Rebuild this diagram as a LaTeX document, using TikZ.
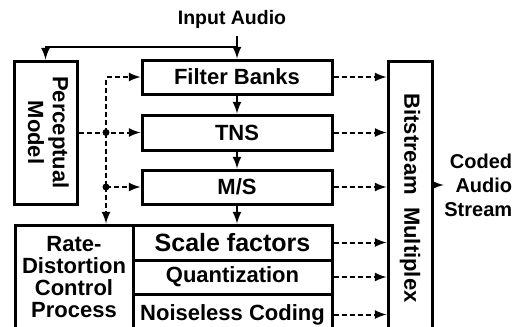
\documentclass[tikz,border=0pt]{standalone}
\usepackage{fontspec}
\setmainfont{Liberation Sans}
\begin{document}
\begin{tikzpicture}[x=0.5pt, y=-0.5pt, thick, >={latex},
	blk/.style={draw, line width=1.5pt, inner sep=0pt, align=center,
		font=\bfseries\fontsize{11}{12}\selectfont},
	sig/.style={line width=1pt, ->},
	ctl/.style={line width=1pt, ->, dash pattern=on 2.5pt off 1.5pt}]
	\useasboundingbox (0,0) rectangle (520,327);
	\clip (0,0) rectangle (520,327);
	
	\node[font=\bfseries\fontsize{9.75}{11}\selectfont] (in) at (232,19) {Input Audio};
	\node[blk, minimum width=95pt, minimum height=17pt] (fb) at (237,77) {Filter Banks};
	\node[blk, minimum width=95pt, minimum height=17.5pt] (tns) at (237,132.5) {TNS};
	\node[blk, minimum width=95pt, minimum height=17pt] (ms) at (237,187) {M/S};
	\node[blk, minimum width=99.5pt, minimum height=17.5pt,
		font=\bfseries\fontsize{12.5}{14}\selectfont] (sf) at (232.5,242.5) {Scale factors};
	\node[blk, minimum width=99.5pt, minimum height=17pt] (qt) at (232.5,277) {Quantization};
	\node[blk, minimum width=99.5pt, minimum height=20.5pt] (nc) at (232.5,314.5) {Noiseless Coding};
	\node[blk, minimum width=59pt, minimum height=55pt,
		font=\bfseries\fontsize{11}{10.5}\selectfont] (rd) at (74,280)
		{\raisebox{4.5pt}{\begin{tabular}{@{}c@{}}Rate-\\Distortion\\Control\\Process\end{tabular}}};
	\node[blk, minimum width=31.5pt, minimum height=71.5pt,
		font=\bfseries\fontsize{11}{12.5}\selectfont] (pm) at (45.5,132.5)
		{\rotatebox{-90}{\begin{tabular}{@{}c@{}}Perceptual\\Model\end{tabular}}};
	\node[blk, minimum width=22pt, minimum height=137pt] (bm) at (410,198)
		{\rotatebox{-90}{Bitstream\ \ Multiplex}};
	\node[font=\bfseries\fontsize{10}{12}\selectfont, align=right, inner sep=0pt,
		anchor=east] (cas) at (513,185) {Coded\\Audio\\Stream};
	
	% audio path
	\coordinate (tap) at (fb.north |- 0,47);
	\draw[sig] (in.south -| fb.north) -- (fb.north);
	\draw[sig] (tap) -| (pm.north);
	\draw[sig] (fb) -- (tns);
	\draw[sig] (tns) -- (ms);
	\draw[sig] (ms.south) -- (ms.south |- sf.north);
	
	% control from the perceptual model
	\coordinate (j1) at (106,132.5);
	\coordinate (j2) at (106,187);
	\draw[ctl] (pm) -- (tns);
	\draw[ctl] (j1) |- (fb.west);
	\draw[ctl, -] (j1) -- (j2);
	\draw[ctl] (j2) -- (ms.west);
	\draw[ctl] (j2) -- (j2 |- rd.north);
	\fill (j1) circle (1.75pt);
	\fill (j2) circle (1.75pt);
	
	% into the multiplexer
	\foreach \b in {fb,tns,ms,sf,qt,nc}
		\draw[ctl] (\b.east) -- (\b.east -| bm.west);
	\draw[sig] (bm.east |- cas.west) -- (cas.west);
\end{tikzpicture}
\end{document}
